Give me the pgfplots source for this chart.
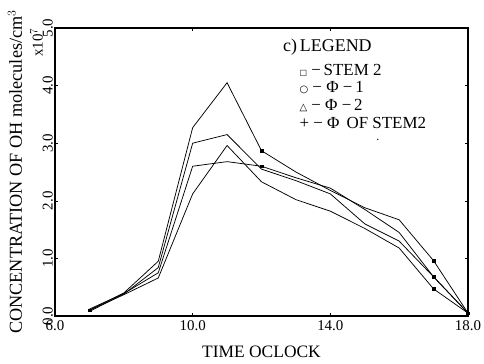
\documentclass[border=0pt]{standalone}
\usepackage{fontspec}
\setmainfont{Liberation Serif}
\newfontfamily\symfont{DejaVu Sans}
\usepackage{pgfplots}
\pgfplotsset{compat=1.18}
\pgfplotstableread{
x y
7 0.10
8 0.40
9 0.95
10 3.27
11 4.05
12 2.87
13 2.50
14 2.18
15 1.88
16 1.67
17 0.96
18 0.05
}\sone
\pgfplotstableread{
x y
7 0.08
8 0.38
9 0.84
10 3.00
11 3.15
12 2.55
13 2.35
14 2.12
15 1.60
16 1.30
17 0.68
18 0.05
}\stwo
\pgfplotstableread{
x y
7 0.12
8 0.39
9 0.75
10 2.60
11 2.68
12 2.60
13 2.40
14 2.22
15 1.85
16 1.45
17 0.68
18 0.05
}\sthree
\pgfplotstableread{
x y
7 0.10
8 0.37
9 0.66
10 2.12
11 2.96
12 2.33
13 2.02
14 1.82
15 1.52
16 1.18
17 0.47
18 0.05
}\sfour
\begin{document}
\begin{tikzpicture}
\begin{axis}[
  scale only axis, width=413bp, height=288bp,
  xmin=6, xmax=18, ymin=0, ymax=5,
  xtick={6,10,14,18}, ytick={0,1,2,3,4,5},
  tick align=inside, major tick length=3bp,
  tick style={black, line width=0.6pt},
  axis line style={line width=1.1pt},
  /pgf/number format/fixed, /pgf/number format/fixed zerofill,
  /pgf/number format/precision=1, /pgf/number format/assume math mode=true,
  xticklabel style={font=\fontsize{15}{15}\selectfont, inner sep=2bp, yshift=-2bp},
  yticklabel style={font=\fontsize{15}{15}\selectfont, rotate=90, anchor=south, inner sep=2bp},
  xlabel={TIME OCLOCK},
  ylabel={CONCENTRATION OF OH molecules/cm$^{3}$},
  xlabel style={font=\fontsize{17.5}{17.5}\selectfont, at={(axis description cs:0.5,0)}, anchor=center, yshift=-36bp},
  ylabel style={font=\fontsize{18.3}{18.3}\selectfont, at={(axis description cs:0,0.5)}, anchor=center, yshift=40bp},
  clip=false,
]
\addplot[black, line width=0.75pt, mark=none] table[x=x,y=y] {\sone};
\addplot[black, line width=0.75pt, mark=none] table[x=x,y=y] {\stwo};
\addplot[black, line width=0.75pt, mark=none] table[x=x,y=y] {\sthree};
\addplot[black, line width=0.75pt, mark=none] table[x=x,y=y] {\sfour};
\addplot[black, only marks, mark=square*, mark size=1.4bp, mark options={fill=black}] coordinates {
(7,0.10) (12,2.87) (12,2.60) (17,0.96) (17,0.68) (17,0.47) (18,0.05)};
\node[rotate=90, anchor=south east, font=\fontsize{15}{15}\selectfont, inner sep=0pt, yshift=12bp] at (axis description cs:0,1) {x10$^{7}$};
\node[anchor=west, font=\fontsize{18}{18}\selectfont, inner sep=0pt] at (axis cs:12.62,4.67) {c)\,LEGEND};
\node[anchor=west, font=\fontsize{17}{17}\selectfont, inner sep=0pt] at (axis cs:13.1,4.27) {{\symfont\fontsize{8}{8}\selectfont □} −\,STEM 2};
\node[anchor=west, font=\fontsize{17}{17}\selectfont, inner sep=0pt] at (axis cs:13.1,3.96) {{\symfont\fontsize{10}{10}\selectfont ○} − Φ −\,1};
\node[anchor=west, font=\fontsize{17}{17}\selectfont, inner sep=0pt] at (axis cs:13.1,3.65) {{\symfont\fontsize{10}{10}\selectfont △} − Φ −\,2};
\node[anchor=west, font=\fontsize{17}{17}\selectfont, inner sep=0pt] at (axis cs:13.1,3.35) {+ − Φ \,OF STEM2};
\node[font=\fontsize{12}{12}\selectfont, inner sep=0pt] at (axis cs:15.38,3.05) {.};
\end{axis}
\pgfresetboundingbox
\path[use as bounding box] (-55bp,-48bp) rectangle (429bp,316bp);
\end{tikzpicture}
\end{document}
